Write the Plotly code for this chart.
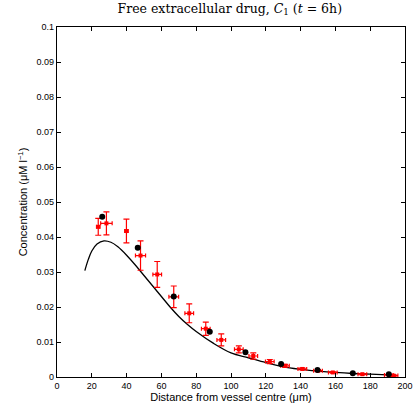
import plotly.graph_objects as go

# Model curve
curve_x = [16, 18, 20, 23, 27, 31, 35, 40, 45, 50, 55, 60, 65, 70, 75, 80, 90, 100,
           110, 120, 130, 140, 150, 160, 170, 180, 190, 195]
curve_y = [0.0304, 0.0336, 0.0360, 0.0380, 0.0389, 0.0385, 0.0372, 0.0348, 0.0320,
           0.0290, 0.0260, 0.0230, 0.0200, 0.0173, 0.0150, 0.0130, 0.0096, 0.0069,
           0.0055, 0.0041, 0.0029, 0.0022, 0.0017, 0.0013, 0.0010, 0.0008, 0.0006, 0.0005]

# Simulation points (black)
sim_x = [26.0, 46.4, 67.1, 87.8, 108.3, 128.8, 149.7, 170.0, 190.7]
sim_y = [0.0458, 0.0369, 0.0230, 0.0129, 0.0071, 0.0037, 0.0020, 0.0011, 0.0008]

# Experimental points (red) with error bars
exp_x = [23.7, 28.4, 39.9, 48.0, 57.6, 67.1, 76.0, 85.5, 94.4, 104.5, 112.8, 122.3,
         131.0, 141.0, 150.0, 158.5, 175.5, 190.7, 193.4]
exp_y = [0.0429, 0.0439, 0.0417, 0.0347, 0.0293, 0.0229, 0.0182, 0.0138, 0.0106,
         0.0079, 0.0060, 0.0044, 0.0032, 0.0023, 0.0018, 0.0013, 0.0008, 0.0006, 0.0004]
exp_ey = [0.0024, 0.0033, 0.0034, 0.0042, 0.0037, 0.0031, 0.0027, 0.0019, 0.0017,
          0.0010, 0.0009, 0.0006, 0.0004, 0.0003, 0.0003, 0.0002, 0.0002, 0.0002, 0.0002]
exp_ex = [1.0, 3.3, 1.0, 2.9, 2.5, 2.8, 2.5, 2.5, 2.5, 2.5, 2.5, 2.5, 2.5, 2.5, 2.5,
          2.5, 2.5, 2.5, 2.5]

x_ticks = [0, 20, 40, 60, 80, 100, 120, 140, 160, 180, 200]
y_ticks = [0, 0.01, 0.02, 0.03, 0.04, 0.05, 0.06, 0.07, 0.08, 0.09, 0.1]
y_tick_text = ["0", "0.01", "0.02", "0.03", "0.04", "0.05", "0.06", "0.07", "0.08", "0.09", "0.1"]

fig = go.Figure()
fig.add_trace(go.Scatter(x=curve_x, y=curve_y, mode="lines", line=dict(color="black", width=1.3, shape="spline"),
                         showlegend=False, hoverinfo="skip"))
fig.add_trace(go.Scatter(x=exp_x, y=exp_y, mode="markers",
                         marker=dict(color="red", size=4, symbol="square"),
                         error_y=dict(type="data", array=exp_ey, color="red", thickness=1.2, width=3),
                         error_x=dict(type="data", array=exp_ex, color="red", thickness=1.2, width=2),
                         showlegend=False))
fig.add_trace(go.Scatter(x=sim_x, y=sim_y, mode="markers",
                         marker=dict(color="black", size=6, symbol="circle"),
                         showlegend=False))

axis_common = dict(showline=True, linecolor="black", linewidth=1.2, mirror="ticks",
                   ticks="inside", ticklen=4, tickcolor="black", showgrid=False, zeroline=False,
                   automargin=False,
                   tickfont=dict(family="Liberation Sans, Arial", size=9, color="black"))

fig.update_layout(
    width=414, height=407,
    margin=dict(l=57, r=9, t=27, b=30),
    paper_bgcolor="white", plot_bgcolor="white",
    title=dict(text="Free extracellular drug, <i>C</i><sub>1</sub> (<i>t</i> = 6h)",
               x=0.555, xanchor="center", y=0.99, yanchor="top",
               font=dict(family="DejaVu Serif", size=12.5, color="black")),
    xaxis=dict(range=[0, 200], tickvals=x_ticks, **axis_common,
               title=dict(text="Distance from vessel centre (μm)", standoff=0,
                          font=dict(family="Liberation Sans, Arial", size=11, color="black"))),
    yaxis=dict(range=[0, 0.1], tickvals=y_ticks, ticktext=y_tick_text, **axis_common,
               title=dict(text="Concentration (μM l<sup>−1</sup>)", standoff=6,
                          font=dict(family="Liberation Sans, Arial", size=11, color="black"))),
)

fig.write_html("out.html", config={"displayModeBar": False},
               post_script="document.body.style.margin='0';document.body.style.overflow='hidden';")
